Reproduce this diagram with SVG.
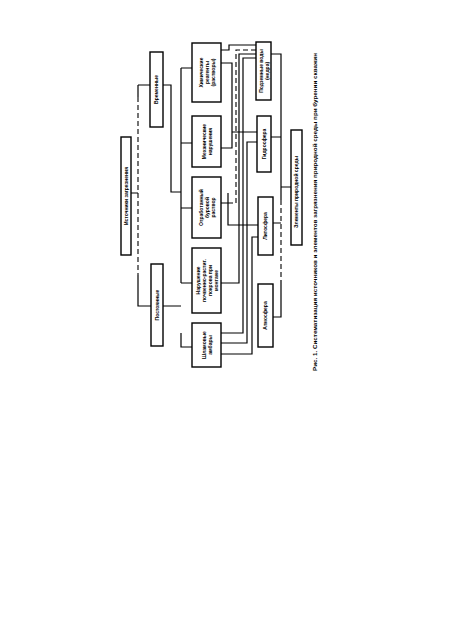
<svg xmlns="http://www.w3.org/2000/svg" width="450" height="636" viewBox="0 0 450 636">
<style>
.b{fill:#fff;stroke:#000;stroke-width:1.4}
.t{font-family:"Liberation Sans",Arial,sans-serif;font-size:5px;font-weight:bold;fill:#000;text-anchor:middle}
.c{fill:none;stroke:#000;stroke-width:1.2}
.d{fill:none;stroke:#000;stroke-width:1.1;stroke-dasharray:5 3}
</style>
<rect width="450" height="636" fill="#fff"/>
<g id="connectors">
<path class="c" d="M131,193H138M138,85V97M138,85H150M138,275V306H151"/>
<path class="d" d="M138,97V275"/>
<path class="c" d="M163,85H171V192H181M163,306H181M181,68V283M181,68H192M181,143H192M181,208H192M181,283H192M181,333V347H192"/>
<path class="c" d="M221,63H232V148H221M232,132H257M221,50H229V45H256"/>
<path class="c" d="M221,203H228M228,193V225H258"/>
<path class="d" d="M228,203H236V50H256"/>
<path class="c" d="M221,283H239V54H256M221,333H243V58H256M221,343H247V142H257M221,354H252V237H258"/>
<path class="c" d="M271,54H281V200M271,137H281M273,223H281M281,280V317H273M281,187H291"/>
<path class="d" d="M281,200V280"/>
</g>
<g id="A"><rect class="b" x="121" y="137" width="10" height="118"/><text class="t" transform="translate(127.8,196) rotate(-90)">Источники загрязнения</text></g>
<g id="B"><rect class="b" x="150" y="52" width="13" height="75"/><text class="t" transform="translate(158.3,89.5) rotate(-90)">Временные</text></g>
<g id="C"><rect class="b" x="151" y="264" width="12" height="82"/><text class="t" transform="translate(158.8,305) rotate(-90)">Постоянные</text></g>
<g id="D"><rect class="b" x="192" y="43" width="29" height="59"/><text class="t" transform="translate(206.5,72.5) rotate(-90)"><tspan x="0" y="-4">Химические</tspan><tspan x="0" y="2">реагенты</tspan><tspan x="0" y="8">(растворы)</tspan></text></g>
<g id="E"><rect class="b" x="192" y="116" width="29" height="51"/><text class="t" transform="translate(206.5,141.5) rotate(-90)"><tspan x="0" y="-1">Механические</tspan><tspan x="0" y="5">нарушения</tspan></text></g>
<g id="F"><rect class="b" x="192" y="177" width="29" height="61"/><text class="t" transform="translate(206.5,207.5) rotate(-90)"><tspan x="0" y="-4">Отработанный</tspan><tspan x="0" y="2">буровой</tspan><tspan x="0" y="8">раствор</tspan></text></g>
<g id="G"><rect class="b" x="192" y="248" width="29" height="65"/><text class="t" transform="translate(206.5,280.5) rotate(-90)"><tspan x="0" y="-7">Нарушение</tspan><tspan x="0" y="-1">почвенно-растит.</tspan><tspan x="0" y="5">покрова при</tspan><tspan x="0" y="11">монтаже</tspan></text></g>
<g id="H"><rect class="b" x="192" y="323" width="29" height="44"/><text class="t" transform="translate(206.5,345) rotate(-90)"><tspan x="0" y="-1">Шламовые</tspan><tspan x="0" y="5">амбары</tspan></text></g>
<g id="I"><rect class="b" x="256" y="42" width="15" height="58"/><text class="t" transform="translate(263.5,71) rotate(-90)"><tspan x="0" y="-1">Подземные воды</tspan><tspan x="0" y="5">(недра)</tspan></text></g>
<g id="J"><rect class="b" x="257" y="116" width="14" height="56"/><text class="t" transform="translate(265.8,144) rotate(-90)">Гидросфера</text></g>
<g id="K"><rect class="b" x="258" y="197" width="15" height="58"/><text class="t" transform="translate(267.3,226) rotate(-90)">Литосфера</text></g>
<g id="L"><rect class="b" x="258" y="284" width="15" height="63"/><text class="t" transform="translate(267.3,315.5) rotate(-90)">Атмосфера</text></g>
<g id="M"><rect class="b" x="291" y="130" width="11" height="115"/><text class="t" transform="translate(298.3,192) rotate(-90)">Элементы природной среды</text></g>
<text class="t" transform="translate(317,212) rotate(-90)" textLength="318" lengthAdjust="spacingAndGlyphs">Рис. 1. Систематизация источников и элементов загрязнения природной среды при бурении скважин</text>
</svg>
